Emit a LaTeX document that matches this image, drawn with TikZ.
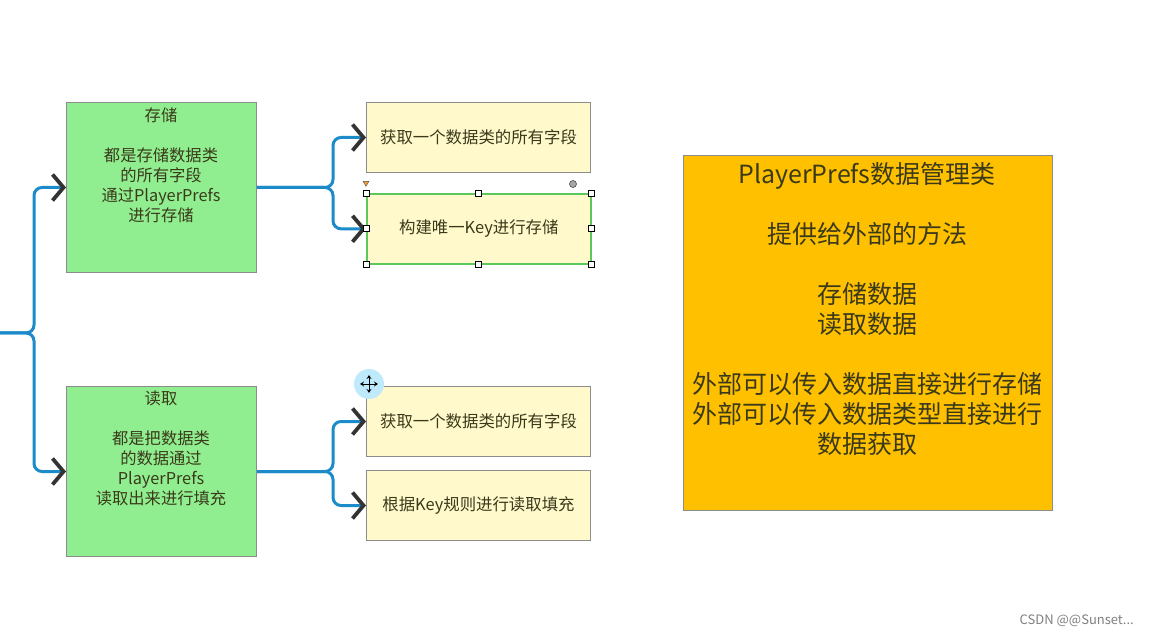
\documentclass[tikz,border=0pt]{standalone}
\usepackage{fontspec}
\setmainfont{Noto Sans CJK SC}
\usetikzlibrary{arrows.meta,shapes.geometric}
\definecolor{gfill}{HTML}{90EE90}
\definecolor{yfill}{HTML}{FFF9CC}
\definecolor{ofill}{HTML}{FFC000}
\definecolor{bline}{HTML}{1B8BC9}
\definecolor{tipc}{HTML}{333333}
\definecolor{bord}{HTML}{8C8C8C}
\definecolor{selg}{HTML}{5CC85C}
\definecolor{txt}{HTML}{3A3A1A}
\begin{document}
\begin{tikzpicture}[x=1pt,y=-1pt,
  gbox/.style={draw=bord,line width=1pt,fill=gfill,minimum width=190pt,minimum height=170pt,anchor=north west,inner sep=0pt},
  ybox/.style={draw=bord,line width=1pt,fill=yfill,minimum width=224pt,minimum height=70pt,anchor=north west,inner sep=0pt,font=\fontsize{16.4pt}{19pt}\selectfont,text=txt},
  obox/.style={draw=bord,line width=1pt,fill=ofill,minimum width=369pt,minimum height=355pt,anchor=north west,inner sep=0pt},
  gtext/.style={anchor=north,align=center,inner sep=0pt,font=\fontsize{16.3pt}{20pt}\selectfont,text=txt},
  otext/.style={anchor=north,align=center,inner sep=0pt,font=\fontsize{25pt}{30pt}\selectfont,text=txt},
  conn/.style={draw=bline,line width=3pt,rounded corners=8pt,-{Straight Barb[color=tipc,length=11pt,width=26pt,line width=3.8pt]}},
  handle/.style={rectangle,draw=black,fill=white,minimum size=6pt,inner sep=0pt,line width=0.8pt}
]
\useasboundingbox[fill=white] (0,0) rectangle (1149,636);

% green boxes
\node[gbox] (s) at (66,102) {};
\node[gtext] (st) at (161,108) {存储\\[20pt]都是存储数据类\\的所有字段\\通过PlayerPrefs\\进行存储};
\node[gbox] (r) at (66,386) {};
\node[gtext] (rt) at (161,391) {读取\\[20pt]都是把数据类\\的数据通过\\PlayerPrefs\\读取出来进行填充};

% yellow boxes
\node[ybox] (ya) at (366,102) {获取一个数据类的所有字段};
\node[ybox,draw=selg,line width=1.6pt] (yb) at (366,193) {构建唯一Key进行存储};
\node[ybox] (yc) at (366,386) {获取一个数据类的所有字段};
\node[ybox] (yd) at (366,470) {根据Key规则进行读取填充};

% orange box
\node[obox] (o) at (683,155) {};
\node[otext] (ot) at (867,162) {PlayerPrefs数据管理类\\[30pt]提供给外部的方法\\[30pt]存储数据\\读取数据\\[30pt]外部可以传入数据直接进行存储\\外部可以传入数据类型直接进行\\数据获取};

% connectors
\coordinate (root) at (0,333);
\draw[conn] (root) -| ([xshift=-32pt]s.west) -- (s.west);
\draw[conn] (root) -| ([xshift=-32pt]r.west) -- (r.west);
\draw[conn] (s.east) -| ([xshift=-33pt]ya.west) -- (ya.west);
\draw[conn] (s.east) -| ([xshift=-33pt]yb.west) -- (yb.west);
\draw[conn] (r.east) -| ([xshift=-33pt]yc.west) -- (yc.west);
\draw[conn] (r.east) -| ([xshift=-33pt]yd.west) -- (yd.west);

% selection handles
\foreach \a in {north west,north,north east,west,east,south west,south,south east}
  \node[handle] at (yb.\a) {};
\node[isosceles triangle,isosceles triangle apex angle=60,shape border rotate=-90,draw=black!70,fill=orange!80,inner sep=0pt,minimum height=5pt,line width=0.4pt] (tri) at (366,183) {};
\node[circle,draw=black!70,fill=gray!70,minimum size=7pt,inner sep=0pt,line width=0.6pt] (rot) at (573,184) {};

% move cursor
\node[circle,fill=cyan!25,minimum size=30pt,inner sep=0pt] (mc) at (369,384) {};
\foreach \ang in {0,90,180,270}
  \draw[black,line width=0.8pt,-{Stealth[length=4pt,width=5pt,fill=white]}] (mc.center) -- ++(\ang:9pt);

% watermark
\node[anchor=east,inner sep=0pt,font=\fontsize{13pt}{15pt}\selectfont,text=black!50] (wm) at (1134,621) {CSDN @@Sunset...};
\end{tikzpicture}
\end{document}
